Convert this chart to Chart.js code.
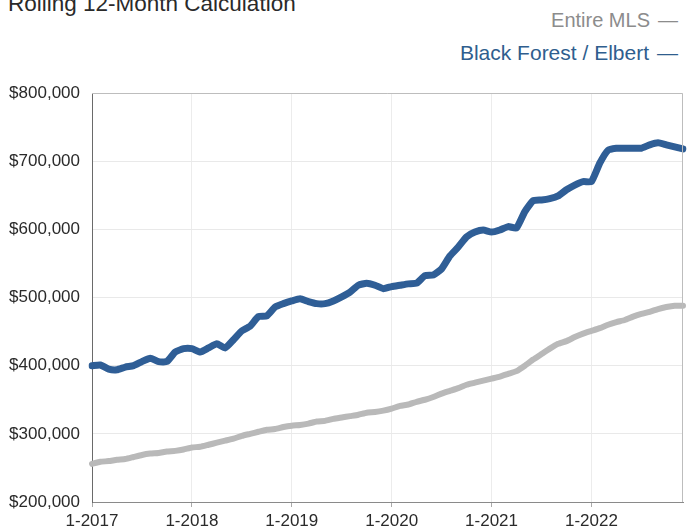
<!DOCTYPE html>
<html>
<head>
<meta charset="utf-8">
<script src="https://cdn.jsdelivr.net/npm/chart.js@4/dist/chart.umd.min.js"></script>
<style>
    html, body { margin: 0; padding: 0; background: #fff; }
    #wrap { position: relative; width: 688px; height: 529px; overflow: hidden; font-family: "Liberation Sans", Arial, sans-serif; }
    #title { position: absolute; left: 8px; top: -9px; font-size: 22.5px; color: #2a2a2a; white-space: nowrap; }
    #legend { position: absolute; right: 10px; top: 9px; text-align: right; }
    #legend div { white-space: nowrap; height: 32px; }
    #legend .dash { display: inline-block; margin-left: 8px; }
    #box { position: absolute; left: 0; top: 0; width: 688px; height: 529px; }
</style>
</head>
<body>
<div id="wrap">
    <div id="title">Rolling 12-Month Calculation</div>
    <div id="legend"></div>
    <div id="box"><canvas id="chart"></canvas></div>
</div>
<script>
(function () {
    const years = [2017, 2018, 2019, 2020, 2021, 2022];

    // median sales price, rolling 12 months, Jan 2017 - Dec 2022
    const entireMls = [
        256000, 259000, 260000, 262000, 263000, 266000, 269000, 271000, 272000, 274000, 275000, 277000,
        280000, 281000, 284000, 287000, 290000, 293000, 297000, 300000, 303000, 306000, 307000, 310000,
        312000, 313000, 315000, 318000, 319000, 322000, 324000, 326000, 328000, 331000, 332000, 334000,
        337000, 341000, 343000, 347000, 350000, 354000, 359000, 363000, 367000, 372000, 375000, 378000,
        381000, 384000, 388000, 392000, 400000, 409000, 417000, 425000, 432000, 436000, 442000, 447000,
        451000, 455000, 460000, 464000, 467000, 472000, 476000, 479000, 483000, 486000, 488000, 488000
    ];
    const blackForest = [
        400000, 401000, 395000, 394000, 398000, 400000, 406000, 411000, 406000, 406000, 420000, 425000,
        425000, 420000, 426000, 432000, 426000, 438000, 451000, 458000, 472000, 473000, 486000, 491000,
        495000, 498000, 494000, 491000, 491000, 495000, 501000, 508000, 518000, 521000, 518000, 513000,
        516000, 518000, 520000, 521000, 532000, 533000, 542000, 561000, 574000, 589000, 596000, 599000,
        596000, 599000, 604000, 602000, 626000, 642000, 643000, 645000, 649000, 658000, 665000, 670000,
        670000, 697000, 716000, 719000, 719000, 719000, 719000, 724000, 727000, 724000, 721000, 718000
    ];

    const series = [
        { name: 'Entire MLS', color: '#b9b9b9', text: '#8c8c8c', width: 6, data: entireMls },
        { name: 'Black Forest / Elbert', color: '#2f5e96', text: '#2f5e8e', width: 7, data: blackForest }
    ];

    let labels = [];
    years.forEach(y => {
        for (let m = 1; m <= 12; m++) labels.push(m + '-' + y);
    });

    // legend: text followed by a short dash in the series colour
    const legend = document.getElementById('legend');
    series.forEach((s, i) => {
        let row = document.createElement('div');
        row.style.fontSize = i === 0 ? '20px' : '21px';
        row.style.color = s.text;
        row.innerHTML = s.name + '<span class="dash">\u2014</span>';
        legend.appendChild(row);
    });

    // thin box around the plot area
    const frame = {
        id: 'frame',
        afterDraw(chart) {
            const a = chart.chartArea;
            const ctx = chart.ctx;
            ctx.save();
            ctx.strokeStyle = '#bdbdbd';
            ctx.lineWidth = 1;
            ctx.beginPath();
            ctx.moveTo(a.left, a.top + 0.5);
            ctx.lineTo(a.right - 0.5, a.top + 0.5);
            ctx.lineTo(a.right - 0.5, a.bottom);
            ctx.stroke();
            ctx.restore();
        }
    };

    const config = {
        type: 'line',
        data: {
            labels: labels,
            datasets: series.map(s => ({
                label: s.name,
                data: s.data,
                borderColor: s.color,
                borderWidth: s.width,
                pointRadius: 0,
                tension: 0.15,
                borderCapStyle: 'round',
                borderJoinStyle: 'round',
                fill: false
            }))
        },
        options: {
            responsive: true,
            maintainAspectRatio: false,
            animation: false,
            layout: { padding: { top: 93, right: 5, bottom: 0, left: 0 } },
            plugins: { legend: { display: false }, title: { display: false }, tooltip: { enabled: false } },
            scales: {
                x: {
                    afterFit(scale) { scale.height = 27; },
                    grid: { color: '#ececec', tickLength: 5, drawTicks: true, tickColor: '#aaa' },
                    border: { color: '#8a8a8a', width: 1 },
                    ticks: {
                        autoSkip: false,
                        maxRotation: 0,
                        minRotation: 0,
                        padding: 4,
                        color: '#2a2a2a',
                        font: { family: '"Liberation Sans", Arial, sans-serif', size: 17 },
                        callback: function (value) {
                            let lab = this.getLabelForValue(value);
                            return lab.startsWith('1-') ? lab : null;
                        }
                    }
                },
                y: {
                    min: 200000,
                    max: 800000,
                    afterFit(scale) { scale.width = 92; },
                    grid: { color: '#e9e9e9', drawTicks: false },
                    border: { color: '#6a6a6a', width: 1 },
                    ticks: {
                        stepSize: 100000,
                        padding: 12,
                        color: '#2a2a2a',
                        font: { family: '"Liberation Sans", Arial, sans-serif', size: 17 },
                        callback: v => '$' + v.toLocaleString('en-US')
                    }
                }
            }
        },
        plugins: [frame]
    };

    new Chart('chart', config);
})();
</script>
</body>
</html>
